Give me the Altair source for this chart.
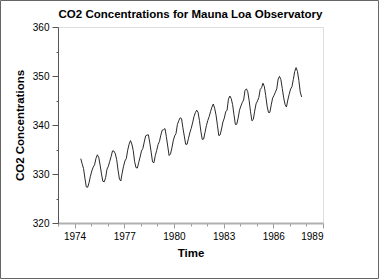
import altair as alt
import pandas as pd

# Monthly CO2 concentrations (ppm), Mauna Loa, starting May 1974
start_year = 1974
start_month = 5
co2 = [
    333.13, 332.09, 331.10, 329.14, 327.36, 327.29, 328.23, 329.55,
    330.62, 331.40, 331.87, 333.18, 333.92, 333.43, 331.85, 330.01, 328.51, 328.41, 329.25, 330.97,
    331.60, 332.60, 333.57, 334.72, 334.68, 334.17, 332.96, 330.80, 328.98, 328.57, 330.20, 331.58,
    332.67, 333.17, 334.86, 336.07, 336.82, 336.12, 334.81, 332.56, 331.30, 331.22, 332.37, 333.49,
    334.71, 335.23, 336.54, 337.79, 337.95, 338.00, 336.37, 334.47, 332.46, 332.29, 333.76, 334.80,
    336.00, 336.63, 337.93, 338.95, 339.05, 339.27, 337.64, 335.68, 333.77, 334.09, 335.29, 336.76,
    337.77, 338.26, 340.10, 340.88, 341.47, 341.31, 339.41, 337.74, 336.07, 336.07, 337.22, 338.38,
    339.32, 340.41, 341.69, 342.51, 343.02, 342.54, 340.88, 338.75, 337.05, 337.13, 338.45, 339.85,
    340.90, 341.70, 342.70, 343.65, 344.28, 343.42, 342.02, 339.97, 337.84, 338.00, 339.20, 340.63,
    341.41, 342.68, 343.04, 345.27, 345.92, 345.40, 344.16, 342.11, 340.11, 340.15, 341.38, 343.02,
    343.87, 344.59, 345.11, 347.07, 347.38, 346.78, 344.96, 342.71, 340.86, 341.13, 342.84, 344.32,
    344.88, 345.62, 347.23, 347.62, 348.53, 347.87, 346.00, 343.86, 342.55, 342.57, 344.11, 345.49,
    346.04, 346.70, 347.38, 349.38, 349.93, 349.26, 347.44, 345.55, 344.21, 343.67, 345.09, 346.27,
    347.33, 347.82, 349.29, 350.91, 351.71, 350.94, 349.10, 346.77, 345.73,
]
x_ticks = list(range(1973, 1990))
y_ticks = list(range(320, 361, 5))

times = [start_year + (start_month - 1 + i + 0.5) / 12 for i in range(len(co2))]
df = pd.DataFrame({"Time": times, "CO2": co2})

FONT = "Liberation Sans"

line = alt.Chart(df).mark_line(color="#2a2a2a", strokeWidth=1, clip=True).encode(
    x=alt.X(
        "Time:Q",
        scale=alt.Scale(domain=[1973, 1989], nice=False, zero=False),
        axis=alt.Axis(
            title="Time",
            values=x_ticks,
            labelExpr="(datum.value - 1974) % 3 == 0 ? format(datum.value, 'd') : ''",
            tickSize={"condition": {"test": "(datum.value - 1974) % 3 == 0", "value": 5}, "value": 3},
            tickColor="#9a9a9a",
            domainColor="#b0b0b0",
            domainWidth=2,
            grid=False,
            labelFont=FONT,
            labelFontSize=10,
            labelColor="#000000",
            labelPadding=3,
            titleFont=FONT,
            titleFontSize=11.5,
            titleFontWeight="bold",
            titlePadding=6,
            titleColor="#000000",
        ),
    ),
    y=alt.Y(
        "CO2:Q",
        scale=alt.Scale(domain=[320, 360], nice=False, zero=False),
        axis=alt.Axis(
            title="CO2 Concentrations",
            values=y_ticks,
            labelExpr="datum.value % 10 == 0 ? format(datum.value, 'd') : ''",
            tickSize={"condition": {"test": "datum.value % 10 == 0", "value": 6}, "value": 2},
            tickColor="#555555",
            domainColor="#555555",
            grid=False,
            labelFont=FONT,
            labelFontSize=10,
            labelColor="#000000",
            labelPadding=3,
            titleFont=FONT,
            titleFontSize=11.5,
            titleFontWeight="bold",
            titlePadding=7,
            titleColor="#000000",
        ),
    ),
)

frame = alt.Chart(pd.DataFrame({"k": [0]})).mark_rect(
    fill=None, stroke="#666666", strokeWidth=1, clip=False
).encode(
    x=alt.value(-57.5), x2=alt.value(320.5), y=alt.value(-26.5), y2=alt.value(251.5)
)

chart = alt.layer(line, frame).properties(
    width=265,
    height=196,
    title=alt.TitleParams(
        "CO2 Concentrations for Mauna Loa Observatory",
        font=FONT, fontSize=11.5, fontWeight="bold", color="#000000",
        anchor="middle", offset=7, frame="group", dy=27,
    ),
    autosize=alt.AutoSizeParams(type="none"),
    padding={"left": 58, "top": 27, "right": 57, "bottom": 57},
).configure_view(stroke="#555555", strokeWidth=1).configure(background="white")

chart.save("out.html", embed_options={"renderer": "svg", "actions": False})
